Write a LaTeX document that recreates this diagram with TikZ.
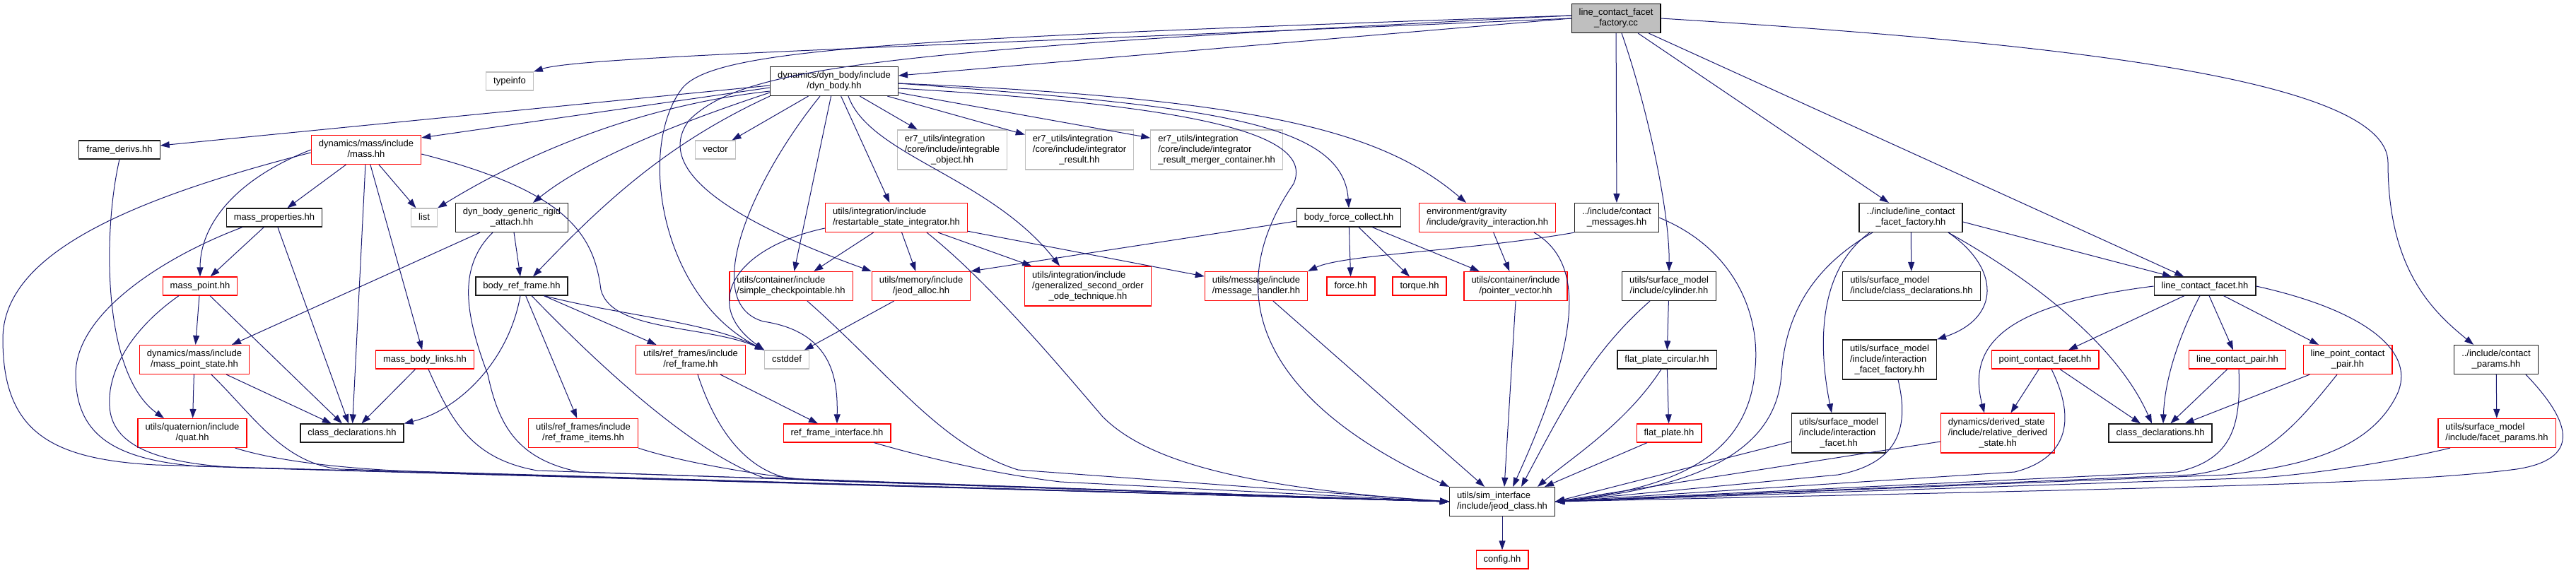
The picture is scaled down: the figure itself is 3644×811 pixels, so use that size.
\documentclass[tikz,border=0pt]{standalone}
\usepackage{fontspec}
\setmainfont{Liberation Sans}
\usetikzlibrary{arrows.meta}
\definecolor{edgeblue}{HTML}{191970}
\definecolor{syshdrgray}{HTML}{BFBFBF}
\newcommand\flab[1]{\begin{tabular}{@{}c@{}}#1\end{tabular}}
\newcommand\flabb[2]{\begin{tabular}{@{}l@{}}#1\\\multicolumn{1}{@{}c@{}}{#2}\end{tabular}}

\begin{document}
\begin{tikzpicture}[x=1pt,y=-1pt,
    hdr/.style={draw=black!90, line width=1.2pt, fill=white, inner xsep=10.5pt, inner ysep=5.5pt,
      font=\fontsize{13}{15}\selectfont},
    redhdr/.style={hdr, draw=red},
    syshdr/.style={hdr, draw=syshdrgray},
    srchdr/.style={hdr, draw=black, fill=syshdrgray},
    dep/.style={draw=edgeblue, line width=1pt, -{Triangle[length=13pt,width=9pt]}}]
  \useasboundingbox (0,0) rectangle (3644,811);

  % files, row by row
  \node[srchdr] (lcffcc) at (2286,26) {\flabb{line\_contact\_facet}{\_factory.cc}};
  \node[syshdr] (typeinfo) at (721,115) {\flab{typeinfo}};
  \node[hdr] (dynbody) at (1180,115) {\flabb{dynamics/dyn\_body/include}{/dyn\_body.hh}};
  \node[hdr] (framederivs) at (169,212) {\flab{frame\_derivs.hh}};
  \node[redhdr] (mass) at (518,212) {\flabb{dynamics/mass/include}{/mass.hh}};
  \node[syshdr] (vector) at (1012,212) {\flab{vector}};
  \node[syshdr] (integobj) at (1347,212) {\flabb{er7\_utils/integration\\/core/include/integrable}{\_object.hh}};
  \node[syshdr] (integres) at (1527,212) {\flabb{er7\_utils/integration\\/core/include/integrator}{\_result.hh}};
  \node[syshdr] (integmerge) at (1721,212) {\flabb{er7\_utils/integration\\/core/include/integrator}{\_result\_merger\_container.hh}};
  \node[hdr] (massprop) at (388,308) {\flab{mass\_properties.hh}};
  \node[syshdr] (list) at (600,308) {\flab{list}};
  \node[hdr] (rigidattach) at (724,308) {\flabb{dyn\_body\_generic\_rigid}{\_attach.hh}};
  \node[redhdr] (restart) at (1268,308) {\flabb{utils/integration/include}{/restartable\_state\_integrator.hh}};
  \node[hdr] (forcecoll) at (1908,308) {\flab{body\_force\_collect.hh}};
  \node[redhdr] (gravity) at (2104,308) {\flabb{environment/gravity}{/include/gravity\_interaction.hh}};
  \node[hdr] (contactmsg) at (2287,308) {\flabb{../include/contact}{\_messages.hh}};
  \node[hdr] (lcffhh) at (2703,308) {\flabb{../include/line\_contact}{\_facet\_factory.hh}};
  \node[redhdr] (masspoint) at (283,405) {\flab{mass\_point.hh}};
  \node[hdr] (bodyref) at (738,405) {\flab{body\_ref\_frame.hh}};
  \node[redhdr] (checkpt) at (1119,405) {\flabb{utils/container/include}{/simple\_checkpointable.hh}};
  \node[redhdr] (jeodalloc) at (1303,405) {\flabb{utils/memory/include}{/jeod\_alloc.hh}};
  \node[redhdr] (gensecond) at (1539,405) {\flabb{utils/integration/include\\/generalized\_second\_order}{\_ode\_technique.hh}};
  \node[redhdr] (msghandler) at (1777,405) {\flabb{utils/message/include}{/message\_handler.hh}};
  \node[redhdr] (force) at (1911,405) {\flab{force.hh}};
  \node[redhdr] (torque) at (2008,405) {\flab{torque.hh}};
  \node[redhdr] (ptrvector) at (2144,405) {\flabb{utils/container/include}{/pointer\_vector.hh}};
  \node[hdr] (cylinder) at (2361,405) {\flabb{utils/surface\_model}{/include/cylinder.hh}};
  \node[hdr] (smdecl) at (2704,405) {\flabb{utils/surface\_model}{/include/class\_declarations.hh}};
  \node[hdr] (lcfacet) at (3119,405) {\flab{line\_contact\_facet.hh}};
  \node[redhdr] (masspstate) at (275,509) {\flabb{dynamics/mass/include}{/mass\_point\_state.hh}};
  \node[redhdr] (bodylinks) at (601,509) {\flab{mass\_body\_links.hh}};
  \node[redhdr] (refframe) at (977,509) {\flabb{utils/ref\_frames/include}{/ref\_frame.hh}};
  \node[syshdr] (cstddef) at (1113,509) {\flab{cstddef}};
  \node[hdr] (fpcirc) at (2358,509) {\flab{flat\_plate\_circular.hh}};
  \node[hdr] (iffactory) at (2673,509) {\flabb{utils/surface\_model\\/include/interaction}{\_facet\_factory.hh}};
  \node[redhdr] (ptfacet) at (2893,509) {\flab{point\_contact\_facet.hh}};
  \node[redhdr] (lcpair) at (3165,509) {\flab{line\_contact\_pair.hh}};
  \node[redhdr] (lpcpair) at (3321,509) {\flabb{line\_point\_contact}{\_pair.hh}};
  \node[hdr] (contactparams) at (3531,509) {\flabb{../include/contact}{\_params.hh}};
  \node[redhdr] (quat) at (272,613) {\flabb{utils/quaternion/include}{/quat.hh}};
  \node[hdr] (massdecl) at (498,613) {\flab{class\_declarations.hh}};
  \node[redhdr] (rfitems) at (825,613) {\flabb{utils/ref\_frames/include}{/ref\_frame\_items.hh}};
  \node[redhdr] (rfiface) at (1184,613) {\flab{ref\_frame\_interface.hh}};
  \node[redhdr] (flatplate) at (2361,613) {\flab{flat\_plate.hh}};
  \node[hdr] (ifacet) at (2601,613) {\flabb{utils/surface\_model\\/include/interaction}{\_facet.hh}};
  \node[redhdr] (relderived) at (2826,613) {\flabb{dynamics/derived\_state\\/include/relative\_derived}{\_state.hh}};
  \node[hdr] (contactdecl) at (3056,613) {\flab{class\_declarations.hh}};
  \node[redhdr] (facetparams) at (3532,613) {\flabb{utils/surface\_model}{/include/facet\_params.hh}};
  \node[hdr] (jeodclass) at (2125,710) {\flabb{utils/sim\_interface}{/include/jeod\_class.hh}};
  \node[redhdr] (config) at (2125,792) {\flab{config.hh}};

  % includes of the source file
  \draw[dep] (lcffcc.west) .. controls (1300,66) and (820,80) .. (typeinfo.north east);
  \draw[dep] (lcffcc.west) -- ([yshift=8pt]dynbody.east);
  \draw[dep] ([yshift=4pt]lcffcc.west) .. controls (1250,55) and (1010,70) .. (965,125) .. controls (900,210) and (935,420) .. (cstddef.north west);
  \draw[dep] ([yshift=4pt]lcffcc.west) .. controls (1250,70) and (1050,95) .. (975,170) .. controls (930,230) and (1000,300) .. (jeodalloc.north west);
  \draw[dep] (lcffcc) -- (contactmsg);
  \draw[dep] ([xshift=8pt]lcffcc.south) .. controls (2330,150) and (2362,300) .. (cylinder.north);
  \draw[dep] (lcffcc) -- (lcffhh);
  \draw[dep] (lcffcc) -- (lcfacet);
  \draw[dep] (lcffcc.east) .. controls (2900,60) and (3378,110) .. (3378,230) .. controls (3378,380) and (3440,440) .. ([xshift=28pt]contactparams.north west);

  % dyn_body.hh
  \draw[dep] ([yshift=-6pt]dynbody.west) -- ([yshift=6pt]framederivs.east);
  \draw[dep] ([yshift=-9pt]dynbody.west) -- ([yshift=-4pt]mass.north east);
  \draw[dep] ([yshift=-14pt]dynbody.west) .. controls (900,150) and (740,220) .. (list.north east);
  \draw[dep] ([yshift=-16pt]dynbody.west) .. controls (880,200) and (800,250) .. ([xshift=30pt]rigidattach.north);
  \draw[dep] (dynbody.south west) .. controls (950,200) and (860,280) .. ([xshift=16pt]bodyref.north);
  \draw[dep] (dynbody) -- (vector);
  \draw[dep] ([xshift=-20pt]dynbody.south) .. controls (1060,260) and (990,430) .. (1080,455) .. controls (1180,470) and (1185,540) .. (rfiface.north);
  \draw[dep] (dynbody) -- (checkpt);
  \draw[dep] (dynbody) -- (restart);
  \draw[dep] ([xshift=20pt]dynbody.south) .. controls (1230,220) and (1400,250) .. ([xshift=-40pt]gensecond.north);
  \draw[dep] (dynbody) -- (integobj);
  \draw[dep] (dynbody) -- (integres);
  \draw[dep] (dynbody) -- (integmerge);
  \draw[dep] ([yshift=-3pt]dynbody.east) .. controls (1700,150) and (1900,170) .. (forcecoll.north);
  \draw[dep] ([yshift=-3pt]dynbody.east) .. controls (1800,140) and (1960,190) .. ([xshift=-30pt]gravity.north);
  \draw[dep] ([yshift=-10pt]dynbody.east) .. controls (1700,150) and (1860,190) .. (1830,260) .. controls (1720,420) and (1790,570) .. (jeodclass.north west);

  % mass.hh and friends
  \draw[dep] (mass) -- (massprop);
  \draw[dep] (mass.west) .. controls (330,255) and (283,320) .. (masspoint.north);
  \draw[dep] (mass) -- (list);
  \draw[dep] (mass) -- (massdecl);
  \draw[dep] (mass) -- (bodylinks);
  \draw[dep] ([yshift=-6pt]mass.east) .. controls (800,270) and (840,330) .. (850,410) .. controls (865,470) and (1000,460) .. (cstddef.north west);
  \draw[dep] ([yshift=-4pt]mass.west) .. controls (150,290) and (4,370) .. (4,480) .. controls (4,610) and (70,650) .. (220,658) -- (jeodclass.west);
  \draw[dep] (massprop) -- (masspoint);
  \draw[dep] (massprop) -- (massdecl);
  \draw[dep] ([xshift=-45pt]massprop.south) .. controls (240,360) and (107,440) .. (107,530) .. controls (107,615) and (160,650) .. (280,660) -- (jeodclass.west);
  \draw[dep] (masspoint) -- (masspstate);
  \draw[dep] (masspoint) -- (massdecl);
  \draw[dep] ([xshift=-30pt]masspoint.south) .. controls (180,470) and (152,530) .. (155,575) .. controls (158,630) and (220,656) .. (340,662) -- (jeodclass.west);
  \draw[dep] (masspstate) -- (quat);
  \draw[dep] (masspstate) -- (massdecl);
  \draw[dep] ([xshift=24pt]masspstate.south) .. controls (360,590) and (400,655) .. (480,664) -- (jeodclass.west);
  \draw[dep] ([xshift=-17pt]quat.south east) .. controls (400,655) and (500,664) .. (600,668) -- (jeodclass.west);
  \draw[dep] (framederivs.south) .. controls (145,330) and (145,530) .. ([xshift=-40pt]quat.north);
  \draw[dep] ([xshift=-45pt]rigidattach.south) -- ([xshift=53pt]masspstate.north);
  \draw[dep] (rigidattach) -- (bodyref);
  \draw[dep] ([xshift=-27pt]rigidattach.south) .. controls (645,380) and (660,450) .. (690,530) .. controls (705,600) and (730,650) .. (820,668) -- (jeodclass.west);
  \draw[dep] (bodylinks) -- (massdecl);
  \draw[dep] ([xshift=5pt]bodylinks.south) .. controls (640,600) and (670,650) .. (760,666) -- (jeodclass.west);

  % reference frames
  \draw[dep] ([xshift=-2pt]bodyref.south) .. controls (720,510) and (650,580) .. (massdecl.north east);
  \draw[dep] (bodyref) -- (rfitems);
  \draw[dep] (bodyref) -- (refframe);
  \draw[dep] ([xshift=32pt]bodyref.south) .. controls (870,445) and (1000,455) .. (cstddef.north west);
  \draw[dep] ([xshift=14pt]bodyref.south) .. controls (850,520) and (980,640) .. (1080,676) -- (jeodclass.west);
  \draw[dep] (refframe) -- (rfiface);
  \draw[dep] ([xshift=10pt]refframe.south) .. controls (1010,600) and (1050,665) .. (1120,678) -- (jeodclass.west);
  \draw[dep] (rfitems.south east) .. controls (950,650) and (1050,670) .. (1150,680) -- (jeodclass.west);
  \draw[dep] ([xshift=-24pt]rfiface.south east) .. controls (1300,645) and (1400,670) .. (1500,682) -- (jeodclass.west);

  % integration, memory, messages
  \draw[dep] ([xshift=23pt]checkpt.south) .. controls (1260,530) and (1330,630) .. (1440,665) -- (jeodclass.west);
  \draw[dep] (jeodalloc) -- (cstddef);
  \draw[dep] (restart) -- (checkpt);
  \draw[dep] (restart) -- (jeodalloc);
  \draw[dep] (restart) -- (gensecond);
  \draw[dep] (restart) -- (msghandler);
  \draw[dep] ([yshift=-15pt]restart.west) .. controls (1040,350) and (990,430) .. (cstddef.north west);
  \draw[dep] ([xshift=43pt]restart.south) .. controls (1400,400) and (1500,520) .. (1560,590) .. controls (1620,650) and (1750,690) .. (jeodclass.west);
  \draw[dep] ([yshift=-5pt]forcecoll.west) -- (jeodalloc.north east);
  \draw[dep] (forcecoll) -- (force);
  \draw[dep] (forcecoll) -- (torque);
  \draw[dep] (forcecoll) -- (ptrvector);
  \draw[dep] (gravity) -- (ptrvector);
  \draw[dep] ([xshift=66pt]gravity.south) .. controls (2240,370) and (2240,470) .. ([xshift=15pt]jeodclass.north);
  \draw[dep] (contactmsg.south west) .. controls (2080,355) and (1900,360) .. (msghandler.north east);
  \draw[dep] (contactmsg.east) .. controls (2450,350) and (2490,440) .. (2483,520) .. controls (2475,640) and (2380,690) .. (jeodclass.east);
  \draw[dep] ([xshift=24pt]msghandler.south) -- ([xshift=-25pt]jeodclass.north);
  \draw[dep] (ptrvector.south) -- ([xshift=3pt]jeodclass.north);

  % surface model
  \draw[dep] (cylinder) -- (fpcirc);
  \draw[dep] ([xshift=-27pt]cylinder.south) .. controls (2250,500) and (2210,580) .. ([xshift=27pt]jeodclass.north);
  \draw[dep] (fpcirc) -- (flatplate);
  \draw[dep] ([xshift=-8pt]fpcirc.south) .. controls (2300,600) and (2220,650) .. ([xshift=50pt]jeodclass.north);
  \draw[dep] ([xshift=-31pt]flatplate.south) -- ([xshift=60pt]jeodclass.north);
  \draw[dep] (lcffhh) -- (smdecl);
  \draw[dep] ([xshift=-58pt]lcffhh.south) .. controls (2575,380) and (2570,480) .. ([xshift=-10pt]ifacet.north);
  \draw[dep] ([xshift=53pt]lcffhh.south) .. controls (2830,380) and (2830,450) .. (iffactory.north east);
  \draw[dep] ([yshift=-6pt]lcffhh.east) -- ([xshift=-47pt]lcfacet.north);
  \draw[dep] ([xshift=53pt]lcffhh.south) .. controls (2900,410) and (3000,500) .. ([xshift=-12pt]contactdecl.north);
  \draw[dep] ([xshift=-54pt]lcffhh.south) .. controls (2560,380) and (2525,450) .. (2520,530) .. controls (2512,640) and (2400,690) .. (jeodclass.east);
  \draw[dep] ([yshift=-12pt]ifacet.west) -- (jeodclass.east);
  \draw[dep] ([xshift=12pt]iffactory.south) .. controls (2700,600) and (2690,655) .. (2600,672) -- (jeodclass.east);

  % contact facets
  \draw[dep] (ptfacet) -- (relderived);
  \draw[dep] ([xshift=21pt]ptfacet.south) -- ([xshift=-28pt]contactdecl.north);
  \draw[dep] ([xshift=9pt]ptfacet.south) .. controls (2940,600) and (2920,650) .. (2850,668) -- (jeodclass.east);
  \draw[dep] ([yshift=-12pt]relderived.west) -- (jeodclass.east);
  \draw[dep] ([xshift=-29pt]lcfacet.south) -- ([xshift=33pt]ptfacet.north);
  \draw[dep] (lcfacet.west) .. controls (2850,430) and (2780,480) .. ([xshift=-19pt]relderived.north);
  \draw[dep] ([xshift=-7pt]lcfacet.south) .. controls (3080,480) and (3062,540) .. ([xshift=4pt]contactdecl.north);
  \draw[dep] (lcfacet) -- (lcpair);
  \draw[dep] (lcfacet) -- (lpcpair);
  \draw[dep] (lcfacet.east) .. controls (3350,440) and (3420,500) .. (3390,560) .. controls (3350,640) and (3250,660) .. (3150,672) -- (jeodclass.east);
  \draw[dep] (lcpair) -- (contactdecl);
  \draw[dep] ([xshift=2pt]lcpair.south) .. controls (3170,600) and (3160,650) .. (3080,668) -- (jeodclass.east);
  \draw[dep] (lpcpair) -- (contactdecl);
  \draw[dep] ([xshift=-15pt]lpcpair.south) .. controls (3250,600) and (3200,660) .. (3100,672) -- (jeodclass.east);
  \draw[dep] (contactparams) -- (facetparams);
  \draw[dep] ([xshift=42pt]contactparams.south) .. controls (3640,600) and (3650,650) .. (3560,664) .. controls (3400,685) and (3100,690) .. (jeodclass.east);
  \draw[dep] ([xshift=-66pt]facetparams.south) .. controls (3400,650) and (3300,668) .. (3200,676) -- (jeodclass.east);

  \draw[dep] (jeodclass) -- (config);
\end{tikzpicture}
\end{document}
